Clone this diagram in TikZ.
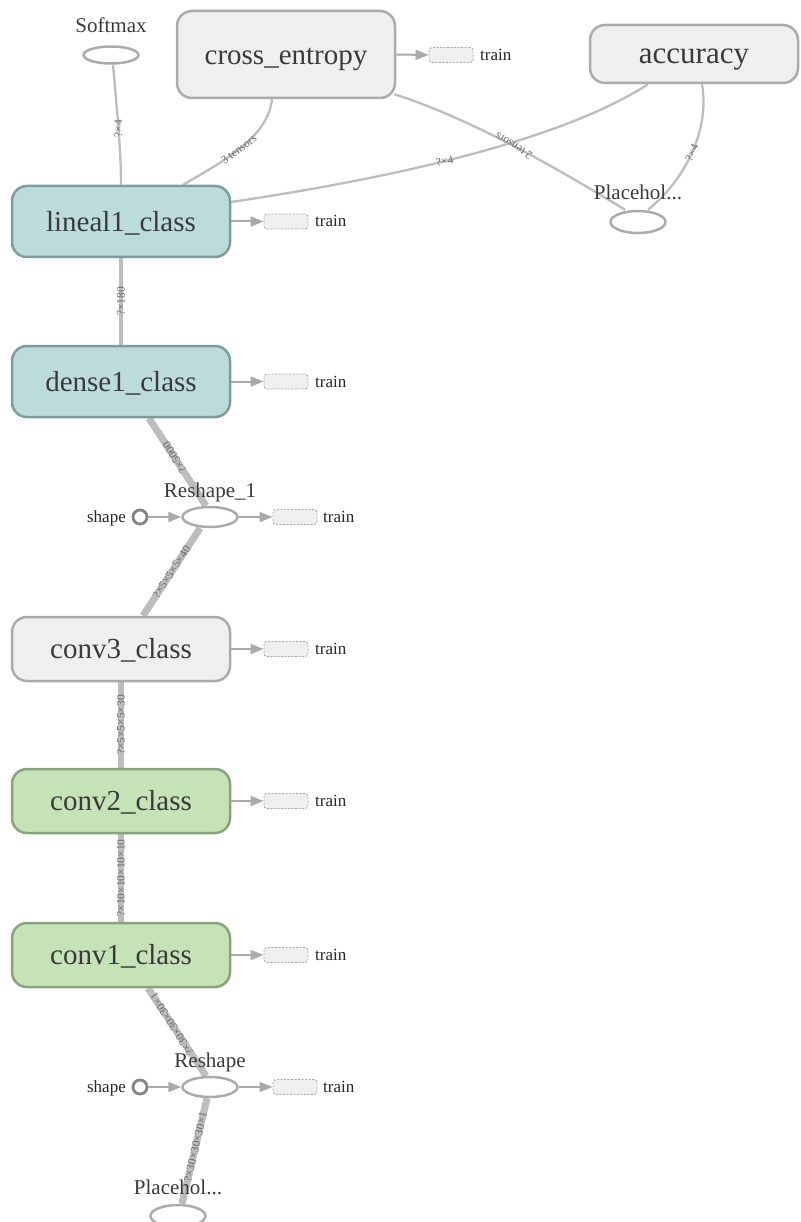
\documentclass[tikz,border=0pt]{standalone}
\usepackage{fontspec}
\setmainfont{Liberation Serif}
\usetikzlibrary{shapes.geometric,arrows.meta,backgrounds,calc}
\definecolor{boxfill}{HTML}{EFEFEF}
\definecolor{boxdraw}{HTML}{ABABAB}
\definecolor{tealfill}{HTML}{BCDCDC}
\definecolor{tealdraw}{HTML}{7F9C9C}
\definecolor{greenfill}{HTML}{C5E3B6}
\definecolor{greendraw}{HTML}{88A47C}
\definecolor{edgegray}{HTML}{BDBDBD}
\definecolor{textdark}{HTML}{3A3A3A}
\definecolor{lblgray}{HTML}{6A6A6A}
\definecolor{arrowgray}{HTML}{AAAAAA}
\definecolor{circdraw}{HTML}{858585}
\begin{document}
\begin{tikzpicture}[x=1pt,y=-1pt,
 opbox/.style={draw=boxdraw, fill=boxfill, line width=2.5pt, rounded corners=15pt,
   minimum width=218pt, minimum height=64pt, inner sep=0pt, text=textdark,
   font=\fontsize{29}{32}\selectfont, text height=22.6pt, text depth=3.5pt},
 tealop/.style={opbox, draw=tealdraw, fill=tealfill, minimum height=71pt},
 greenop/.style={opbox, draw=greendraw, fill=greenfill},
 opell/.style={ellipse, draw=boxdraw, fill=white, line width=2.5pt,
   minimum width=55pt, minimum height=20pt, inner sep=0pt},
 nlbl/.style={font=\fontsize{21}{21}\selectfont, text=textdark, anchor=base, inner sep=0pt},
 smalltxt/.style={font=\fontsize{17}{17}\selectfont, text=black!85, inner sep=0pt},
 trainbox/.style={draw=boxdraw, fill=boxfill, dash pattern=on 2pt off 1.5pt,
   line width=0.9pt, rounded corners=3pt, minimum width=44pt, minimum height=15pt, inner sep=0pt},
 tarrow/.style={draw=arrowgray, line width=2pt, -{Triangle[length=13pt,width=10pt]}},
 edge/.style={draw=edgegray, line width=2.3pt},
 fat/.style={draw=edgegray, line width=7pt},
 elbl/.style={font=\fontsize{11.5}{11.5}\selectfont, text=lblgray, inner sep=0pt},
 shapecirc/.style={circle, draw=circdraw, fill=white, line width=2.8pt, minimum size=14pt, inner sep=0pt}
]
\useasboundingbox (0,0) rectangle (800,1222);

% operation boxes
\node[opbox, minimum height=87pt] (ce) at (286,54.5) {cross\_entropy};
\node[opbox, minimum width=208pt, minimum height=58pt, font=\fontsize{31}{33}\selectfont] (acc) at (694,54) {accuracy};
\node[tealop] (lin) at (121,221.5) {lineal1\_class};
\node[tealop] (dense) at (121,381.5) {dense1\_class};
\node[opbox] (conv3) at (121,649) {conv3\_class};
\node[greenop] (conv2) at (121,801) {conv2\_class};
\node[greenop] (conv1) at (121,955) {conv1\_class};

% ellipse ops
\node[opell, minimum height=17pt] (soft) at (111,55) {};
\node[nlbl] (softl) at (111,33) {Softmax};
\node[opell, minimum height=22pt] (pht) at (638,222) {};
\node[nlbl] (phtl) at (638,200) {Placehol...};
\node[opell] (r1) at (210,517) {};
\node[nlbl] (r1l) at (210,497) {Reshape\_1};
\node[opell] (r0) at (210,1087) {};
\node[nlbl] (r0l) at (210,1067) {Reshape};
\node[opell, minimum height=22pt] (phb) at (178,1216) {};
\node[nlbl] (phbl) at (178,1194) {Placehol...};

% train boxes
\node[trainbox] (cet) at (451,55) {};
\node[smalltxt, anchor=base west] (cetl) at (480,61) {train};
\node[trainbox] (lint) at (286,221.5) {};
\node[smalltxt, anchor=base west] (lintl) at (315,227) {train};
\node[trainbox] (denset) at (286,381.5) {};
\node[smalltxt, anchor=base west] (densetl) at (315,387) {train};
\node[trainbox] (conv3t) at (286,649) {};
\node[smalltxt, anchor=base west] (conv3tl) at (315,654.5) {train};
\node[trainbox] (conv2t) at (286,801) {};
\node[smalltxt, anchor=base west] (conv2tl) at (315,806.5) {train};
\node[trainbox] (conv1t) at (286,955) {};
\node[smalltxt, anchor=base west] (conv1tl) at (315,960.5) {train};
\node[trainbox] (r1t) at (295,517) {};
\node[smalltxt, anchor=base west] (r1tl) at (323,522.5) {train};
\node[trainbox] (r0t) at (295,1087) {};
\node[smalltxt, anchor=base west] (r0tl) at (323,1092.5) {train};

% shape inputs
\node[shapecirc] (s1) at (140,517) {};
\node[smalltxt, anchor=base east] (s1l) at (126,522.5) {shape};
\node[shapecirc] (s0) at (140,1087) {};
\node[smalltxt, anchor=base east] (s0l) at (126,1092.5) {shape};

% arrows to train and from shape
\draw[tarrow] (ce.east) -- (cet.west);
\draw[tarrow] (lin.east) -- (lint.west);
\draw[tarrow] (dense.east) -- (denset.west);
\draw[tarrow] (conv3.east) -- (conv3t.west);
\draw[tarrow] (conv2.east) -- (conv2t.west);
\draw[tarrow] (conv1.east) -- (conv1t.west);
\draw[tarrow] (r1.east) -- (r1t.west);
\draw[tarrow] (r0.east) -- (r0t.west);
\draw[tarrow] (s1.east) -- (r1.west);
\draw[tarrow] (s0.east) -- (r0.west);

\begin{scope}[on background layer]
\fill[white] (0,0) rectangle (800,1222);
\draw[edge] ([xshift=2pt]soft.south) .. controls (117,110) and (121,150) .. (lin.north)
  node[elbl, pos=0.5, rotate=90] {?×4};
\draw[edge] ([xshift=-14pt]ce.south) .. controls (268,135) and (230,158) .. ([xshift=62pt]lin.north)
  node[elbl, pos=0.55, rotate=37] {3 tensors};
\draw[edge] ([xshift=-46pt]acc.south) .. controls (585,125) and (460,168) .. ([yshift=19.5pt]lin.east)
  node[elbl, pos=0.63, rotate=12] {?×4};
\draw[edge] ([xshift=-2pt,yshift=5pt]ce.south east) .. controls (470,118) and (560,170) .. ([xshift=-13pt]pht.north)
  node[elbl, pos=0.5, rotate=148] {2 tensors};
\draw[edge] ([xshift=8pt]acc.south) .. controls (710,130) and (685,180) .. ([xshift=10pt]pht.north)
  node[elbl, pos=0.5, rotate=65] {?×4};
\draw[edge, line width=4pt] (lin.south) -- (dense.north)
  node[elbl, pos=0.5, rotate=90] {?×180};
\draw[fat] ([xshift=28pt]dense.south) -- ([xshift=-4pt]r1.north)
  node[elbl, pos=0.45, rotate=122] {?×5000};
\draw[fat] ([xshift=-10pt]r1.south) -- ([xshift=22pt]conv3.north)
  node[elbl, pos=0.5, rotate=57] {?×5×5×5×40};
\draw[fat, line width=6.5pt] (conv3.south) -- (conv2.north)
  node[elbl, pos=0.5, rotate=90] {?×5×5×5×30};
\draw[fat, line width=6.5pt] (conv2.south) -- (conv1.north)
  node[elbl, pos=0.5, rotate=90] {?×10×10×10×10};
\draw[fat] ([xshift=27pt]conv1.south) -- ([xshift=-4pt]r0.north)
  node[elbl, pos=0.41, rotate=122] {?×30×30×30×1};
\draw[fat] ([xshift=-3pt]r0.south) -- ([xshift=4pt]phb.north)
  node[elbl, pos=0.46, rotate=77] {?×30×30×30×1};
\end{scope}
\end{tikzpicture}
\end{document}
